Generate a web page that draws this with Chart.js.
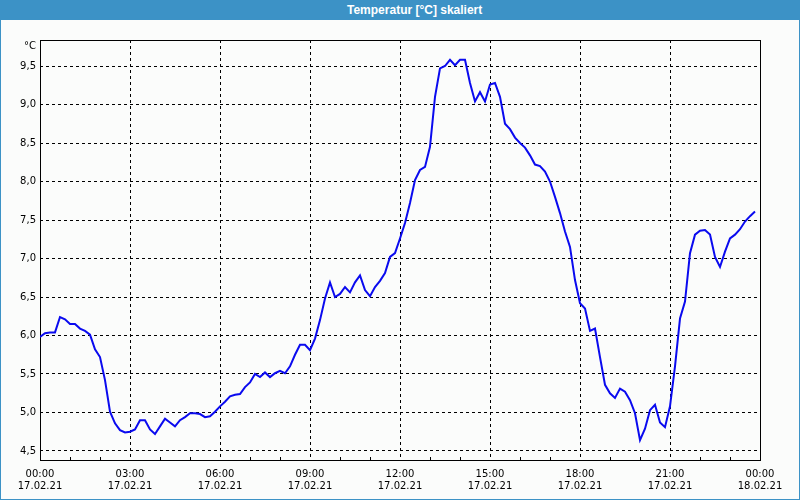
<!DOCTYPE html>
<html>
<head>
<meta charset="utf-8">
<script src="https://cdn.jsdelivr.net/npm/chart.js@4"></script>
<style>
  html, body { margin: 0; padding: 0; background: #fbfcfb; }
  #frame {
    position: absolute; left: 0; top: 0; width: 800px; height: 500px;
    box-sizing: border-box; border: 1px solid #3c92c6; border-top: none;
    background: #fbfcfb;
  }
  #titlebar {
    position: absolute; left: 0; top: 0; width: 800px; height: 20px;
    background: #3c92c6; color: #fff;
    font: bold 12px "Liberation Sans", Arial, sans-serif;
    line-height: 20px;
  }
  #titlebar span { position: absolute; left: 347px; top: 0; }
  #chart { position: absolute; left: 0; top: 0; }
</style>
</head>
<body>
<div id="frame"></div>
<div id="titlebar"><span>Temperatur [°C] skaliert</span></div>
<canvas id="chart" width="800" height="500"></canvas>
<script>
// Temperatur 17.02.21, alle 10 Minuten ab 00:00
const stepMinutes = 10;
const temps = [
  5.98, 6.03, 6.04, 6.04, 6.24, 6.21, 6.15, 6.15, 6.09, 6.06, 6.01, 5.82,
  5.72, 5.42, 5.01, 4.86, 4.77, 4.74, 4.75, 4.78, 4.90, 4.90, 4.78, 4.72,
  4.82, 4.92, 4.87, 4.82, 4.90, 4.94, 4.99, 4.99, 4.98, 4.94, 4.95, 5.01,
  5.08, 5.14, 5.21, 5.23, 5.24, 5.33, 5.39, 5.50, 5.46, 5.52, 5.46, 5.51,
  5.54, 5.51, 5.60, 5.75, 5.88, 5.88, 5.81, 5.96, 6.20, 6.48, 6.69, 6.50,
  6.54, 6.63, 6.56, 6.69, 6.78, 6.59, 6.51, 6.63, 6.71, 6.81, 7.02, 7.07,
  7.26, 7.46, 7.72, 8.02, 8.15, 8.19, 8.45, 9.10, 9.47, 9.50, 9.58, 9.51,
  9.58, 9.58, 9.28, 9.04, 9.16, 9.04, 9.26, 9.28, 9.10, 8.75, 8.68, 8.57,
  8.50, 8.44, 8.34, 8.22, 8.20, 8.13, 8.00, 7.80, 7.59, 7.35, 7.15, 6.72,
  6.42, 6.35, 6.06, 6.09, 5.72, 5.36, 5.25, 5.19, 5.31, 5.27, 5.16, 4.99,
  4.64, 4.79, 5.03, 5.10, 4.87, 4.81, 5.08, 5.60, 6.22, 6.44, 7.07, 7.31,
  7.36, 7.37, 7.31, 7.02, 6.89, 7.09, 7.26, 7.31, 7.38, 7.48, 7.55, 7.61
];

const xTickHours = [0, 3, 6, 9, 12, 15, 18, 21, 24];
const timeLabels = ['00:00', '03:00', '06:00', '09:00', '12:00', '15:00', '18:00', '21:00', '00:00'];
const dateLabels = ['17.02.21', '17.02.21', '17.02.21', '17.02.21', '17.02.21', '17.02.21', '17.02.21', '17.02.21', '18.02.21'];
const yTicks = [4.5, 5.0, 5.5, 6.0, 6.5, 7.0, 7.5, 8.0, 8.5, 9.0, 9.5];
const yMin = 4.383, yMax = 9.838;

const points = temps.map((t, i) => ({ x: i * stepMinutes / 60, y: t }));
const tickFont = { family: "'DejaVu Sans', sans-serif", size: 10 };

// Rahmen, Stunden-Markierungen und Einheit
const framePlugin = {
  id: 'frame',
  beforeDatasetsDraw(chart) {
    const { ctx, chartArea: a, scales } = chart;
    ctx.save();
    ctx.strokeStyle = '#000';
    ctx.lineWidth = 1;
    ctx.beginPath();
    for (let h = 1; h < 24; h++) {
      if (h % 3 === 0) continue;
      const x = Math.round(scales.x.getPixelForValue(h)) + 0.5;
      ctx.moveTo(x, a.bottom);
      ctx.lineTo(x, a.bottom - 3);
    }
    ctx.stroke();
    ctx.strokeRect(Math.round(a.left) + 0.5, Math.round(a.top) + 0.5,
      Math.round(a.right - a.left), Math.round(a.bottom - a.top));
    ctx.fillStyle = '#000';
    ctx.font = "10px 'DejaVu Sans', sans-serif";
    ctx.textAlign = 'right';
    ctx.textBaseline = 'middle';
    ctx.fillText('°C', 36, 46);
    ctx.restore();
  }
};

new Chart(document.getElementById('chart'), {
  type: 'line',
  data: {
    datasets: [{
      data: points,
      borderColor: '#0a0aef',
      borderWidth: 2,
      pointRadius: 0,
      tension: 0,
      fill: false
    }]
  },
  options: {
    responsive: false,
    animation: false,
    devicePixelRatio: 1,
    layout: { padding: { left: 0, top: 40, right: 40, bottom: 0 } },
    plugins: { legend: { display: false }, title: { display: false }, tooltip: { enabled: false } },
    scales: {
      x: {
        type: 'linear',
        min: 0,
        max: 24,
        afterBuildTicks: (scale) => { scale.ticks = xTickHours.map(v => ({ value: v })); },
        afterFit: (scale) => { scale.height = 40; },
        grid: { color: '#000', lineWidth: 1, drawTicks: false },
        border: { display: false, dash: [3, 3] },
        ticks: {
          color: '#000',
          font: tickFont,
          padding: 8,
          maxRotation: 0,
          autoSkip: false,
          callback: (v, i) => [timeLabels[i], dateLabels[i]]
        }
      },
      y: {
        min: yMin,
        max: yMax,
        afterBuildTicks: (scale) => { scale.ticks = yTicks.map(v => ({ value: v })); },
        afterFit: (scale) => { scale.width = 40; },
        grid: { color: '#000', lineWidth: 1, drawTicks: false },
        border: { display: false, dash: [3, 3] },
        ticks: {
          color: '#000',
          font: tickFont,
          padding: 4,
          autoSkip: false,
          callback: (v) => v.toFixed(1).replace('.', ',')
        }
      }
    }
  },
  plugins: [framePlugin]
});
</script>
</body>
</html>
